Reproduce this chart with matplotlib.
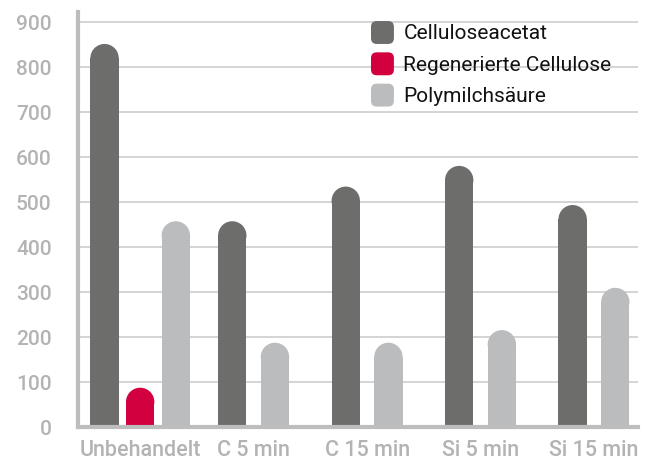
import matplotlib
matplotlib.use("Agg")
import matplotlib.pyplot as plt
from matplotlib.patches import Ellipse, FancyBboxPatch, Patch
from matplotlib.legend_handler import HandlerPatch

plt.rcParams['font.family'] = ['Roboto', 'DejaVu Sans']

# data
categories = ['Unbehandelt', 'C 5 min', 'C 15 min', 'Si 5 min', 'Si 15 min']
series_names = ['Celluloseacetat', 'Regenerierte Cellulose', 'Polymilchsäure']
cellulose_acetat = [852, 458, 535, 581, 494]
regen_cellulose = [88, None, None, None, None]
polymilchsaeure = [458, 188, 188, 216, 310]
series = [cellulose_acetat, regen_cellulose, polymilchsaeure]
colors = ['#6d6d6b', '#d2003e', '#bbbcbe']

bar_w = 0.25
step = {3: 0.314, 2: 0.376, 1: 0.0}
x_lo, x_hi = -0.548, 4.388
y_hi = 923

fig = plt.figure(figsize=(6.49, 4.62), dpi=100)
ax = fig.add_axes([78/649, 1 - 427.3/462, (638 - 78)/649, (427.3 - 12)/462])
ax.set_xlim(x_lo, x_hi)
ax.set_ylim(0, y_hi)

# pixel scale so the round caps come out circular
px_per_x = (638 - 78) / (x_hi - x_lo)
px_per_y = (427.3 - 12) / y_hi
cap_ry = (bar_w / 2) * px_per_x / px_per_y

for gi, cat in enumerate(categories):
    present = [si for si in range(len(series)) if series[si][gi] is not None]
    n = len(present)
    for k, si in enumerate(present):
        val = series[si][gi]
        x = gi + (k - (n - 1) / 2) * step[n]
        ax.bar(x, val - cap_ry, width=bar_w, bottom=0, color=colors[si],
               zorder=3, linewidth=0)
        ax.add_patch(Ellipse((x, val - cap_ry), bar_w, 2 * cap_ry,
                             facecolor=colors[si], edgecolor='none', zorder=3))

ax.set_yticks(range(0, 1000, 100))
ax.set_xticks(range(len(categories)))
ax.set_xticklabels(categories)
for yv in range(100, 1000, 100):
    ax.axhline(yv, color='#cdcdcd', linewidth=1.2, zorder=1)

for s in ['top', 'right']:
    ax.spines[s].set_visible(False)
for s in ['left', 'bottom']:
    ax.spines[s].set_color('#bdbdbd')
    ax.spines[s].set_linewidth(3.0)
    ax.spines[s].set_zorder(4)
    ax.spines[s].set_capstyle('projecting')

ax.tick_params(axis='y', length=0, pad=19, labelsize=15, labelcolor='#b3b3b3')
ax.tick_params(axis='x', length=0, pad=9, labelsize=15.5, labelcolor='#b3b3b3')
for lab in ax.get_xticklabels() + ax.get_yticklabels():
    lab.set_fontweight('medium')


def rounded_square(legend, orig_handle, xdescent, ydescent, width, height, fontsize):
    side = min(width, height)
    return FancyBboxPatch((-xdescent, -ydescent + (height - side) / 2), side, side,
                          boxstyle='round,pad=0,rounding_size=%f' % (side * 0.25),
                          mutation_aspect=1)


handles = [Patch(facecolor=c, edgecolor='none') for c in colors]
leg = fig.legend(handles, series_names, loc='upper left',
                 bbox_to_anchor=(371/649, 1 - 21/462), frameon=False,
                 borderpad=0, borderaxespad=0, fontsize=15,
                 handlelength=1.1, handleheight=1.32, handletextpad=0.45,
                 labelspacing=0.4,
                 handler_map={Patch: HandlerPatch(patch_func=rounded_square)})
for t in leg.get_texts():
    t.set_color('#111111')

fig.savefig('out.png', dpi=100)
